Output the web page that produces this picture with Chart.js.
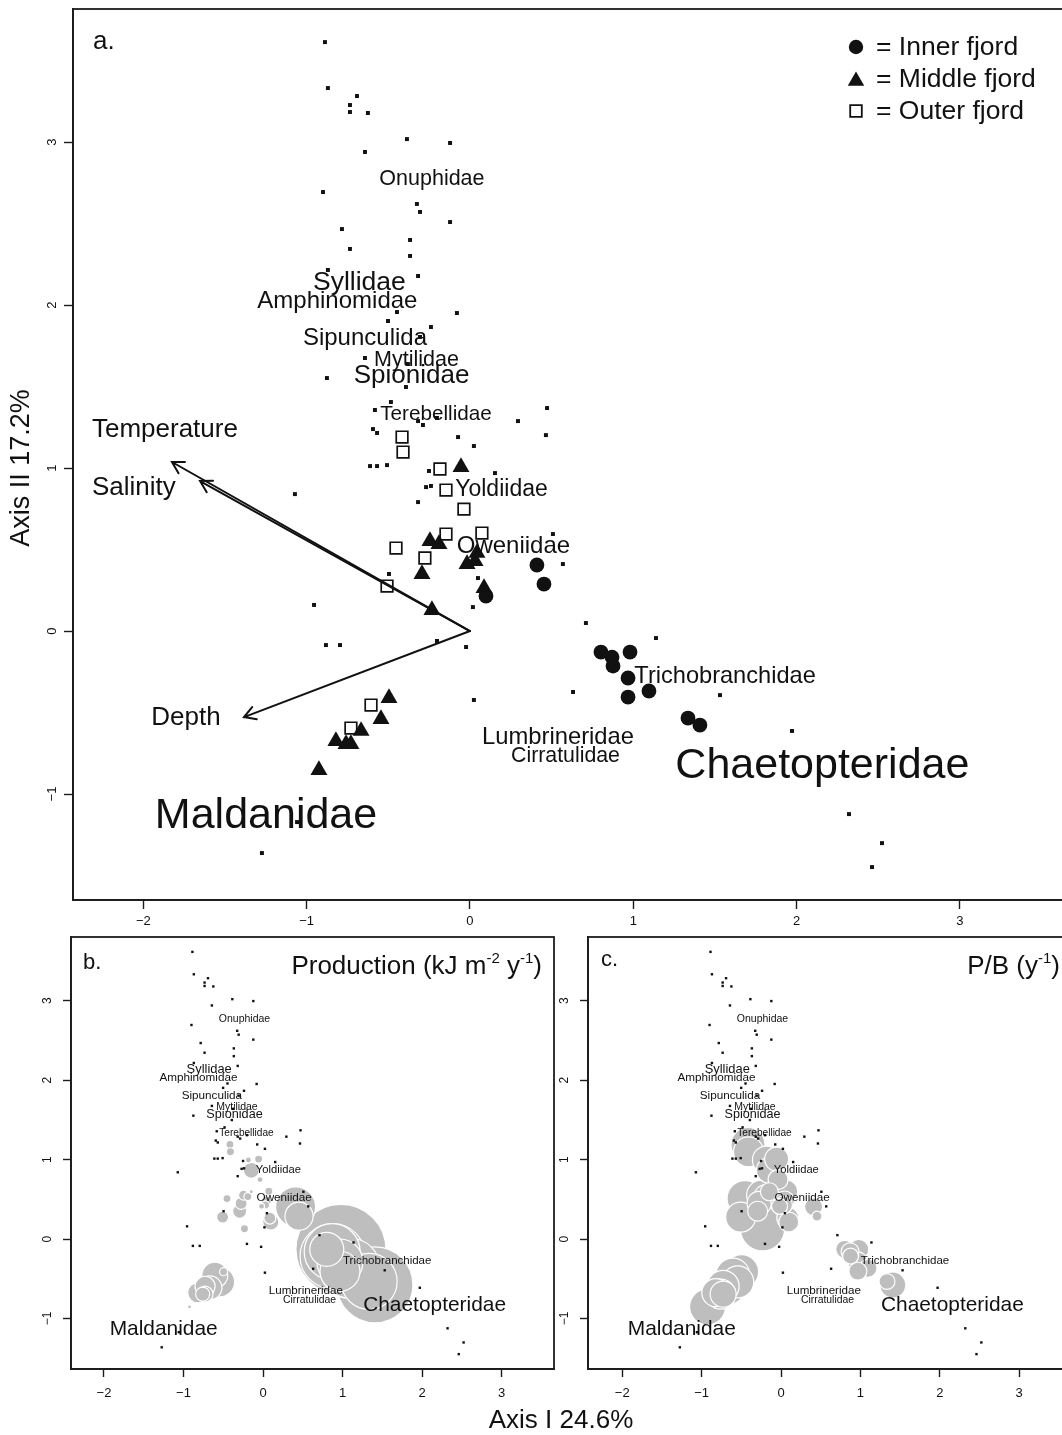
<!DOCTYPE html>
<html>
<head>
<meta charset="utf-8">
<script src="https://cdn.jsdelivr.net/npm/chart.js@4.4.0/dist/chart.umd.min.js"></script>
<style>
  html, body { margin: 0; padding: 0; background: #fff; overflow: hidden; width: 1062px; height: 1435px; }
  .panel { position: absolute; }
  #axisI { position: absolute; left: 0; width: 1122px; top: 1404px; text-align: center;
           font: 26px 'Liberation Sans', Arial, Helvetica, sans-serif; color: #111; line-height: 30px; }
</style>
</head>
<body>
<div class="panel" style="left:0;top:0"><canvas id="panelA" width="1080" height="940"></canvas></div>
<div class="panel" style="left:0;top:930px"><canvas id="panelB" width="570" height="480"></canvas></div>
<div class="panel" style="left:517px;top:930px"><canvas id="panelC" width="563" height="480"></canvas></div>
<div id="axisI">Axis I 24.6%</div>

<script>
// ── Ordination scores (Axis I / Axis II) ─────────────────────────────
const xTicks = [-2, -1, 0, 1, 2, 3];
const yTicks = [-1, 0, 1, 2, 3];

// species (family) scores
const spX = [-0.888, -0.870, -0.692, -0.735, -0.735, -0.625, -0.386, -0.122, -0.643, -0.900,
             -0.325, -0.306, -0.122, -0.784, -0.735, -0.367, -0.367, -0.318, -0.870, -0.080,
             -0.447, -0.502, -0.239, -0.306, -0.643, -0.380, -0.876, -0.392, -0.484, -0.582,
             -0.318, -0.288, -0.202, 0.294, 0.472, -0.594, -0.569, -0.073, 0.024, 0.465,
             -0.612, -0.569, -0.508, -0.251, 0.153, -0.269, -0.239, -0.318, -1.072, 0.508,
             0.569, -0.496, 0.049, 0.018, -0.955, -0.882, -0.796, -0.202, -0.024, 0.024,
             -1.274, -1.059, 0.710, 1.139, 0.631, 1.531, 1.972, 2.321, 2.523, 2.462];
const spY = [3.613, 3.331, 3.282, 3.227, 3.184, 3.178, 3.018, 2.994, 2.939, 2.693,
             2.620, 2.571, 2.509, 2.466, 2.344, 2.399, 2.301, 2.178, 2.215, 1.951,
             1.957, 1.902, 1.865, 1.804, 1.675, 1.638, 1.552, 1.497, 1.405, 1.356,
             1.288, 1.264, 1.307, 1.288, 1.368, 1.239, 1.215, 1.190, 1.135, 1.202,
             1.012, 1.012, 1.018, 0.982, 0.969, 0.883, 0.890, 0.791, 0.840, 0.595,
             0.411, 0.350, 0.325, 0.147, 0.160, -0.086, -0.086, -0.061, -0.098, -0.423,
             -1.362, -1.172, 0.049, -0.043, -0.374, -0.393, -0.613, -1.123, -1.301, -1.448];

// labelled families: name, position, text size (px at the full-size panel)
const famNames = ['Onuphidae', 'Syllidae', 'Amphinomidae', 'Sipunculida', 'Mytilidae', 'Spionidae',
                  'Terebellidae', 'Yoldiidae', 'Oweniidae', 'Trichobranchidae', 'Lumbrineridae',
                  'Cirratulidae', 'Chaetopteridae', 'Maldanidae'];
const famX = [-0.233, -0.677, -0.812, -0.643, -0.328, -0.358, -0.208, 0.193, 0.266, 1.562, 0.539, 0.585, 2.158, -1.249];
const famY = [2.773, 2.135, 2.025, 1.798, 1.663, 1.564, 1.331, 0.865, 0.521, -0.276, -0.650, -0.767, -0.828, -1.135];
const famSize = [21.5, 26.5, 24, 24, 21.5, 26, 20.7, 23, 24, 23.6, 23.8, 21.3, 43, 43];

// sample scores, production (kJ m-2 y-1) and P/B (y-1) per station group
const innerX = [0.802, 0.870, 0.876, 0.980, 0.968, 1.096, 0.968, 1.335, 1.408, 0.410, 0.453, 0.098];
const innerY = [-0.129, -0.160, -0.215, -0.129, -0.288, -0.368, -0.405, -0.534, -0.577, 0.405, 0.288, 0.215];
const innerProd = [57, 155, 210, 400, 104, 178, 79, 155, 285, 79, 39, 13];
const innerPB = [0.56, 0.56, 0.44, 0.69, 0.69, 0.56, 0.56, 0.44, 1.17, 0.56, 0.17, 0.69];

const middleX = [-0.055, -0.245, -0.190, 0.043, -0.018, 0.031, -0.294, 0.086, -0.233, -0.496, -0.545, -0.667, -0.821, -0.759, -0.729, -0.925];
const middleY = [1.006, 0.552, 0.534, 0.479, 0.411, 0.429, 0.350, 0.264, 0.129, -0.411, -0.540, -0.613, -0.675, -0.693, -0.693, -0.853];
const middleProd = [3.2, 4.9, 3.2, 4.9, 1.8, 3.2, 9.7, 7.1, 3.2, 3.2, 44, 28, 20, 9.7, 12.6, 0.8];
const middlePB = [1.0, 1.56, 1.0, 0.69, 0.44, 0.56, 0.69, 0.84, 3.4, 2.0, 1.78, 2.0, 1.36, 1.56, 1.17, 2.25];

const outerX = [-0.416, -0.410, -0.184, -0.147, -0.037, -0.147, 0.073, -0.453, -0.276, -0.508, -0.606, -0.729];
const outerY = [1.190, 1.098, 0.994, 0.865, 0.748, 0.595, 0.601, 0.509, 0.448, 0.276, -0.454, -0.595];
const outerProd = [3.2, 3.2, 1.8, 12.6, 1.8, 0.8, 3.2, 3.2, 7.1, 7.1, 33, 20];
const outerPB = [2.0, 1.56, 1.36, 1.17, 0.69, 0.56, 0.84, 2.25, 1.0, 1.56, 2.0, 1.78];

// environmental vectors
const envNames = ['Temperature', 'Salinity', 'Depth'];
const envX = [-1.825, -1.653, -1.384];
const envY = [1.037, 0.920, -0.528];
const envLabX = [-1.868, -2.058, -1.739];
const envLabY = [1.233, 0.877, -0.534];

const legendRows = ['= Inner fjord', '= Middle fjord', '= Outer fjord'];

const FONT = "'Liberation Sans', Arial, Helvetica, sans-serif";
const INK = '#111';
const BUBBLE = '#bebebe';

const fmt = v => (v < 0 ? '\u2212' + Math.abs(v) : String(v));
const pts = (xs, ys) => xs.map((x, i) => ({ x, y: ys[i] }));

// bubble radius from value (sqrt scaling)
function bubbles(k) {
  const all = [];
  const add = (xs, ys, vs) => xs.forEach((x, i) => all.push({ x, y: ys[i], r: k * Math.sqrt(vs[i]) }));
  return { all, add };
}

// ── Plugins ──────────────────────────────────────────────────────────
const frameBox = {
  id: 'frameBox',
  afterDraw(chart) {
    const { ctx, chartArea: a } = chart;
    ctx.save();
    ctx.strokeStyle = '#1c1c1c';
    ctx.lineWidth = 1.8;
    ctx.strokeRect(a.left, a.top, a.right - a.left, a.bottom - a.top);
    ctx.restore();
  }
};

// rotated y tick labels, plus an optional rotated axis title
const yTickText = (offset, size, title) => ({
  id: 'yTickText',
  afterDraw(chart) {
    const { ctx, chartArea, scales: { y } } = chart;
    ctx.save();
    ctx.fillStyle = INK;
    ctx.font = `${size}px ${FONT}`;
    ctx.textAlign = 'center';
    ctx.textBaseline = 'middle';
    yTicks.forEach(v => {
      ctx.save();
      ctx.translate(chartArea.left - offset, y.getPixelForValue(v));
      ctx.rotate(-Math.PI / 2);
      ctx.fillText(fmt(v), 0, 0);
      ctx.restore();
    });
    if (title) {
      ctx.font = `${title.size}px ${FONT}`;
      ctx.translate(title.x, y.getPixelForValue(title.at));
      ctx.rotate(-Math.PI / 2);
      ctx.fillText(title.text, 0, 0);
    }
    ctx.restore();
  }
});

const familyText = {
  id: 'familyText',
  afterDatasetsDraw(chart) {
    const { ctx, scales: { x, y } } = chart;
    const k = (x.getPixelForValue(1) - x.getPixelForValue(0)) / 163.3;
    ctx.save();
    ctx.fillStyle = INK;
    ctx.textAlign = 'center';
    ctx.textBaseline = 'middle';
    famNames.forEach((name, i) => {
      ctx.font = `${(famSize[i] * k).toFixed(1)}px ${FONT}`;
      ctx.fillText(name, x.getPixelForValue(famX[i]), y.getPixelForValue(famY[i]));
    });
    ctx.restore();
  }
};

const envArrows = {
  id: 'envArrows',
  afterDatasetsDraw(chart) {
    const { ctx, scales: { x, y } } = chart;
    const x0 = x.getPixelForValue(0), y0 = y.getPixelForValue(0);
    ctx.save();
    ctx.strokeStyle = INK;
    ctx.lineWidth = 2;
    ctx.lineCap = 'round';
    envNames.forEach((name, i) => {
      const x1 = x.getPixelForValue(envX[i]), y1 = y.getPixelForValue(envY[i]);
      const ang = Math.atan2(y1 - y0, x1 - x0);
      const head = 13, spread = Math.PI / 6;
      ctx.beginPath();
      ctx.moveTo(x0, y0);
      ctx.lineTo(x1, y1);
      ctx.moveTo(x1 - head * Math.cos(ang - spread), y1 - head * Math.sin(ang - spread));
      ctx.lineTo(x1, y1);
      ctx.lineTo(x1 - head * Math.cos(ang + spread), y1 - head * Math.sin(ang + spread));
      ctx.stroke();
    });
    ctx.fillStyle = INK;
    ctx.font = `26px ${FONT}`;
    ctx.textAlign = 'center';
    ctx.textBaseline = 'middle';
    envNames.forEach((name, i) => {
      ctx.fillText(name, x.getPixelForValue(envLabX[i]), y.getPixelForValue(envLabY[i]));
    });
    ctx.restore();
  }
};

const groupLegend = {
  id: 'groupLegend',
  afterDraw(chart) {
    const { ctx } = chart;
    const styles = [
      { pointStyle: 'circle', radius: 7.2, borderWidth: 0, fill: INK },
      { pointStyle: 'triangle', radius: 9.5, borderWidth: 0, fill: INK },
      { pointStyle: 'rect', radius: 8.2, borderWidth: 1.8, fill: 'rgba(0,0,0,0)' }
    ];
    const rowsY = [47, 79, 111];
    ctx.save();
    styles.forEach((s, i) => {
      ctx.fillStyle = s.fill;
      ctx.strokeStyle = INK;
      ctx.lineWidth = s.borderWidth;
      const dy = s.pointStyle === 'triangle' ? 2 : 0;
      Chart.helpers.drawPoint(ctx, { pointStyle: s.pointStyle, radius: s.radius, borderWidth: s.borderWidth, rotation: 0 }, 856, rowsY[i] + dy);
    });
    ctx.fillStyle = INK;
    ctx.font = `26.5px ${FONT}`;
    ctx.textAlign = 'left';
    ctx.textBaseline = 'middle';
    legendRows.forEach((t, i) => ctx.fillText(t, 876, rowsY[i] + 1));
    ctx.restore();
  }
};

const panelTag = (tag, dx, dy, size) => ({
  id: 'panelTag',
  afterDraw(chart) {
    const { ctx, chartArea: a } = chart;
    ctx.save();
    ctx.fillStyle = INK;
    ctx.font = `${size}px ${FONT}`;
    ctx.textAlign = 'left';
    ctx.textBaseline = 'middle';
    ctx.fillText(tag, a.left + dx, a.top + dy);
    ctx.restore();
  }
});

// right-aligned heading with superscript exponents: parts = [[text, isSup], ...]
const variableTitle = parts => ({
  id: 'variableTitle',
  afterDraw(chart) {
    const { ctx, chartArea: a } = chart;
    const big = `26px ${FONT}`, small = `15px ${FONT}`;
    ctx.save();
    ctx.fillStyle = INK;
    ctx.textBaseline = 'alphabetic';
    ctx.textAlign = 'left';
    let w = 0;
    parts.forEach(([t, sup]) => { ctx.font = sup ? small : big; w += ctx.measureText(t).width; });
    let px = a.right - 12 - w;
    const base = a.top + 37;
    parts.forEach(([t, sup]) => {
      ctx.font = sup ? small : big;
      ctx.fillText(t, px, sup ? base - 11 : base);
      px += ctx.measureText(t).width;
    });
    ctx.restore();
  }
});

// ── Axes ─────────────────────────────────────────────────────────────
function axes(r, o) {
  return {
    x: {
      type: 'linear', min: r.xMin, max: r.xMax,
      afterBuildTicks: s => { s.ticks = xTicks.map(v => ({ value: v })); },
      afterFit: s => { s.height = o.xH; },
      grid: { drawOnChartArea: false, drawTicks: true, tickLength: o.tick, tickWidth: 1.4, tickColor: '#1c1c1c' },
      border: { display: true, color: '#1c1c1c', width: 1.8 },
      ticks: { color: INK, font: { family: FONT, size: o.font }, padding: o.xPad, autoSkip: false,
               maxRotation: 0, minRotation: 0, callback: v => fmt(v) }
    },
    y: {
      type: 'linear', min: r.yMin, max: r.yMax,
      afterBuildTicks: s => { s.ticks = yTicks.map(v => ({ value: v })); },
      afterFit: s => { s.width = o.yW; },
      grid: { drawOnChartArea: false, drawTicks: true, tickLength: o.tick, tickWidth: 1.4, tickColor: '#1c1c1c' },
      border: { display: true, color: '#1c1c1c', width: 1.8 },
      ticks: { display: false }
    }
  };
}

function baseOptions(r, o, pad) {
  return {
    responsive: false,
    animation: false,
    events: [],
    layout: { padding: pad, autoPadding: false },
    plugins: { legend: { display: false }, tooltip: { enabled: false } },
    scales: axes(r, o)
  };
}

// ── Panel a: samples, families and environmental vectors ─────────────
new Chart(document.getElementById('panelA'), {
  type: 'scatter',
  data: {
    datasets: [
      { label: 'Inner fjord', data: pts(innerX, innerY), pointStyle: 'circle', radius: 7.4,
        backgroundColor: INK, borderWidth: 0, order: 1 },
      { label: 'Middle fjord', data: pts(middleX, middleY), pointStyle: 'triangle', radius: 9.8,
        backgroundColor: INK, borderWidth: 0, order: 1 },
      { label: 'Outer fjord', data: pts(outerX, outerY), pointStyle: 'rect', radius: 8.2,
        backgroundColor: 'rgba(0,0,0,0)', borderColor: INK, borderWidth: 1.7, order: 1 },
      { label: 'Families', data: pts(spX, spY), pointStyle: 'rect', radius: 2.8,
        backgroundColor: INK, borderWidth: 0, order: 2 }
    ]
  },
  options: baseOptions(
    { xMin: -2.431, xMax: 3.705, yMin: -1.650, yMax: 3.816 },
    { xH: 40, yW: 73, tick: 9, font: 13, xPad: 5 },
    { top: 9, right: 5, left: 0, bottom: 0 }
  ),
  plugins: [frameBox, yTickText(21, 13, { text: 'Axis II 17.2%', size: 27, x: 22, at: 1.0 }),
            envArrows, familyText, groupLegend, panelTag('a.', 20, 33, 26)]
});

// ── Panels b and c: bubbles sized by production and by P/B ───────────
function bubblePanel(id, values, k, range, extra) {
  const b = bubbles(k);
  b.add(innerX, innerY, values[0]);
  b.add(middleX, middleY, values[1]);
  b.add(outerX, outerY, values[2]);
  b.all.sort((p, q) => q.r - p.r);
  return new Chart(document.getElementById(id), {
    type: 'scatter',
    data: {
      datasets: [
        { type: 'scatter', label: 'Families', data: pts(spX, spY), pointStyle: 'rect', radius: 1.7,
          backgroundColor: INK, borderWidth: 0, order: 1 },
        { type: 'bubble', label: 'Samples', data: b.all,
          backgroundColor: BUBBLE, borderColor: '#ffffff', borderWidth: 1.2, order: 2 }
      ]
    },
    options: baseOptions(range, { xH: 41, yW: 71, tick: 8, font: 13, xPad: 9 }, { top: 7, right: extra.right, left: 0, bottom: 0 }),
    plugins: [frameBox, yTickText(23, 12), familyText, extra.tag, extra.title]
  });
}

bubblePanel('panelB', [innerProd, middleProd, outerProd], 2.25,
  { xMin: -2.415, xMax: 3.66, yMin: -1.635, yMax: 3.80 },
  { right: 16, tag: panelTag('b.', 12, 26, 22),
    title: variableTitle([['Production (kJ m', false], ['-2', true], [' y', false], ['-1', true], [')', false]]) });

bubblePanel('panelC', [innerPB, middlePB, outerPB], 12,
  { xMin: -2.431, xMax: 3.665, yMin: -1.635, yMax: 3.80 },
  { right: 8, tag: panelTag('c.', 13, 23, 22),
    title: variableTitle([['P/B (y', false], ['-1', true], [')', false]]) });
</script>
</body>
</html>
